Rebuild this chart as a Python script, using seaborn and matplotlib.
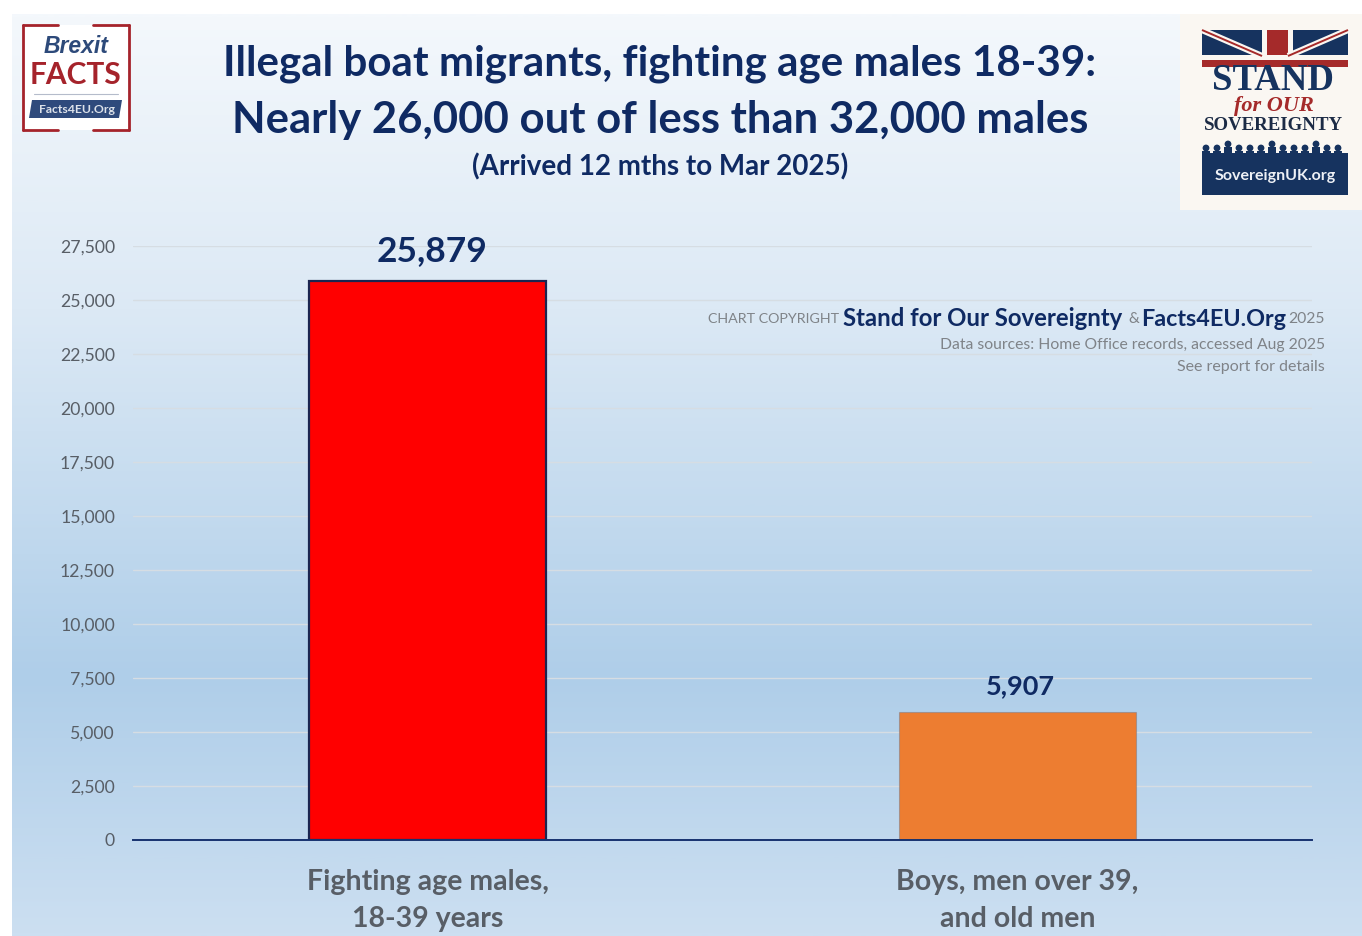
import matplotlib
matplotlib.use("Agg")
import matplotlib.pyplot as plt
import numpy as np
import pandas as pd
import seaborn as sns

from matplotlib.colors import LinearSegmentedColormap
from matplotlib.patches import Circle, Polygon, Rectangle


W, H = 1362, 936
NAVY = "#0F2A63"
GREY = "#585E66"
LIGHT_GREY = "#7F8388"

categories = ["Fighting age males,\n18-39 years", "Boys, men over 39,\nand old men"]
values = [25879, 5907]
value_labels = ["25,879", "5,907"]
bar_colors = ["#FF0000", "#ED7D31"]
y_ticks = list(range(0, 27501, 2500))

title_lines = [
    "Illegal boat migrants, fighting age males 18-39:",
    "Nearly 26,000 out of less than 32,000 males",
]
subtitle = "(Arrived 12 mths to Mar 2025)"


def fx(px):
    return px / W


def fy(py):
    return 1 - py / H


def draw_background(fig):
    bg = fig.add_axes([fx(12), 0, 1 - fx(12), fy(14)], zorder=0)
    cmap = LinearSegmentedColormap.from_list(
        "bg",
        [(0.0, "#F4F8FC"), (0.32, "#DCE9F5"), (0.72, "#AFCEE9"), (1.0, "#CCDFF1")],
    )
    bg.imshow(np.linspace(0, 1, 400).reshape(-1, 1), aspect="auto", cmap=cmap)
    bg.axis("off")


def draw_chart(fig):
    ax = fig.add_axes([fx(133), fy(840), fx(1312 - 133), (840 - 246) / H], zorder=2)
    ax.patch.set_alpha(0)
    df = pd.DataFrame({"group": categories, "count": values})
    sns.barplot(
        data=df, x="group", y="count", hue="group", palette=bar_colors,
        width=0.402, legend=False, ax=ax, saturation=1, zorder=3,
    )
    ax.patches[0].set_edgecolor("#1B2550")
    ax.patches[0].set_linewidth(1.6)
    ax.patches[1].set_edgecolor((0.45, 0.45, 0.5, 0.45))
    ax.patches[1].set_linewidth(0.8)

    ax.set_xlim(-0.5, 1.5)
    ax.set_ylim(0, 27500)
    ax.set_yticks(y_ticks)
    ax.set_yticklabels([f"{v:,}" for v in y_ticks], fontsize=12.7, color=GREY)
    ax.set_xlabel("")
    ax.set_ylabel("")
    ax.tick_params(axis="both", length=0)
    ax.tick_params(axis="y", pad=13)
    ax.tick_params(axis="x", pad=21)
    for label in ax.get_xticklabels():
        label.set_fontsize(20.5)
        label.set_fontweight("bold")
        label.set_color(GREY)
        label.set_linespacing(1.5)

    ax.grid(axis="y", color="#D6DDE3", linewidth=1.0, zorder=0)
    ax.grid(axis="x", visible=False)
    for name in ["top", "left", "right"]:
        ax.spines[name].set_visible(False)
    ax.spines["bottom"].set_color("#17326F")
    ax.spines["bottom"].set_linewidth(1.4)
    ax.spines["bottom"].set_zorder(4)

    # data labels sit a little right of the bar centres in the original
    ax.text(0.008, values[0] + 650, value_labels[0], ha="center", va="bottom",
            fontsize=25.5, fontweight="bold", color=NAVY, clip_on=False)
    ax.text(1.006, values[1] + 665, value_labels[1], ha="center", va="bottom",
            fontsize=19.5, fontweight="bold", color=NAVY)


def draw_titles(fig):
    fig.text(fx(660), fy(64), title_lines[0], ha="center", va="center",
             fontsize=30.3, fontweight="bold", color=NAVY, zorder=5)
    fig.text(fx(660), fy(120), title_lines[1], ha="center", va="center",
             fontsize=31.4, fontweight="bold", color=NAVY, zorder=5)
    fig.text(fx(660), fy(167), subtitle, ha="center", va="center",
             fontsize=20, fontweight="bold", color=NAVY, zorder=5)


def draw_copyright(fig):
    y = fy(319)
    parts = [
        (839, "CHART COPYRIGHT", 10.3, "normal", LIGHT_GREY),
        (1122, "Stand for Our Sovereignty", 17.2, "bold", NAVY),
        (1139, "&", 11, "normal", LIGHT_GREY),
        (1286, "Facts4EU.Org", 16.8, "bold", NAVY),
        (1325, "2025", 11.3, "normal", LIGHT_GREY),
    ]
    for right, text, size, weight, color in parts:
        fig.text(fx(right), y, text, ha="right", va="center", fontsize=size,
                 fontweight=weight, color=color, zorder=5)
    fig.text(fx(1325), fy(345), "Data sources: Home Office records, accessed Aug 2025",
             ha="right", va="center", fontsize=11.3, color=LIGHT_GREY, zorder=5)
    fig.text(fx(1325), fy(367), "See report for details",
             ha="right", va="center", fontsize=11.5, color=LIGHT_GREY, zorder=5)


def logo_axes(fig, x0, y0, x1, y1):
    # axes in reference pixel coordinates, y pointing down
    ax = fig.add_axes([fx(x0), fy(y1), fx(x1 - x0), (y1 - y0) / H], zorder=6)
    ax.set_xlim(x0, x1)
    ax.set_ylim(y1, y0)
    ax.axis("off")
    return ax


def draw_facts_logo(fig):
    ax = logo_axes(fig, 20, 22, 132, 134)
    red = "#A5232B"
    ax.add_patch(Rectangle((23, 25), 106, 105, facecolor="white", edgecolor="none"))
    for seg in [
        ([23, 23], [25, 130]), ([129, 129], [25, 130]),
        ([23, 58], [25, 25]), ([93, 129], [25, 25]),
        ([23, 58], [130, 130]), ([93, 129], [130, 130]),
    ]:
        ax.plot(seg[0], seg[1], color=red, linewidth=2)
    ax.text(76, 47, "Brexit", ha="center", va="center", fontsize=16.5,
            fontweight="bold", style="italic", color="#2D4A7A", family="Liberation Sans")
    ax.text(76, 75, "FACTS", ha="center", va="center", fontsize=21.5,
            fontweight="bold", color=red, family="Lato")
    ax.plot([34, 118], [94, 94], color="#B5BCCB", linewidth=0.8)
    ax.add_patch(Polygon([[32, 100], [122, 100], [119, 118], [29, 118]],
                         facecolor="#2F4A7C", edgecolor="none"))
    ax.text(77, 110, "Facts4EU.Org", ha="center", va="center", fontsize=8.8,
            fontweight="bold", color="#DDE2EA", family="Lato")


def draw_stand_logo(fig):
    ax = logo_axes(fig, 1180, 14, 1362, 210)
    red = "#A52A2A"
    blue = "#16335F"
    ax.add_patch(Rectangle((1180, 14), 182, 196, facecolor="#FAF7F2", edgecolor="none"))

    # flag, only the top part shows above the lettering
    ax.add_patch(Rectangle((1202, 30), 146, 26, facecolor=blue, edgecolor="none"))
    for x_end, x_mid in [(1202, 1262), (1348, 1288)]:
        ax.plot([x_end, x_mid], [30, 56], color="#FAF7F2", linewidth=4.5, solid_capstyle="butt")
        ax.plot([x_end, x_mid], [30, 56], color=red, linewidth=1.4, solid_capstyle="butt")
    ax.add_patch(Rectangle((1262, 30), 31, 30, facecolor="#FAF7F2", edgecolor="none"))
    ax.add_patch(Rectangle((1267, 30), 21, 30, facecolor=red, edgecolor="none"))
    ax.add_patch(Rectangle((1202, 55), 146, 6, facecolor="#FAF7F2", edgecolor="none"))
    ax.add_patch(Rectangle((1202, 60), 146, 7, facecolor=red, edgecolor="none"))

    ax.text(1273, 80, "STAND", ha="center", va="center", fontsize=26.5,
            fontweight="bold", color=blue, family="Liberation Serif")
    ax.text(1274, 106, "for OUR", ha="center", va="center", fontsize=16,
            fontweight="bold", style="italic", color=red, family="Liberation Serif")
    ax.text(1274, 126, "SOVEREIGNTY", ha="center", va="center", fontsize=13.6,
            fontweight="bold", color="#1C2B45", family="Liberation Serif")

    # crowd silhouette
    ax.add_patch(Rectangle((1202, 153), 146, 42, facecolor=blue, edgecolor="none"))
    for i, x in enumerate(range(1206, 1348, 11)):
        top = 144 if i % 4 == 2 else 148
        ax.add_patch(Circle((x, top), 3.4, facecolor=blue, edgecolor="none"))
        ax.add_patch(Rectangle((x - 4.2, top + 3), 8.4, 8, facecolor=blue, edgecolor="none"))
    ax.text(1275, 176, "SovereignUK.org", ha="center", va="center", fontsize=11.5,
            fontweight="bold", color="#EEF1F6", family="Lato")


def main():
    sns.set_theme(style="white")
    plt.rcParams["font.family"] = ["Lato", "DejaVu Sans"]

    fig = plt.figure(figsize=(W / 100, H / 100), dpi=100, facecolor="white")
    draw_background(fig)
    draw_chart(fig)
    draw_titles(fig)
    draw_copyright(fig)
    draw_facts_logo(fig)
    draw_stand_logo(fig)
    fig.savefig("out.png", dpi=100, facecolor="white")
    plt.close(fig)


if __name__ == "__main__":
    main()
